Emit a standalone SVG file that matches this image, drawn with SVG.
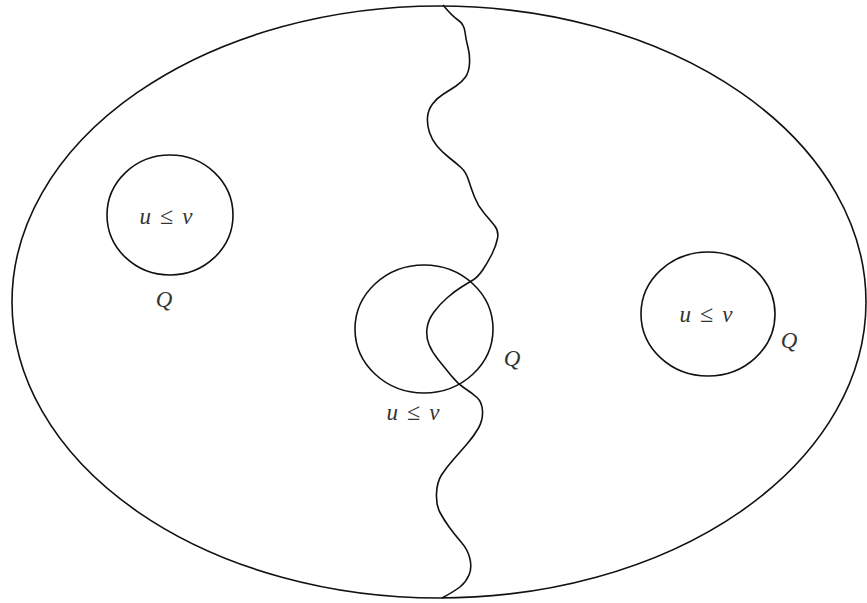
<svg xmlns="http://www.w3.org/2000/svg" width="867" height="603" viewBox="0 0 867 603">
<style>
.ln{fill:none;stroke:#111;stroke-width:1.6}
.m{font-family:"Liberation Serif","DejaVu Serif",serif;font-style:italic;font-size:23px;fill:#333;text-anchor:middle}
.r{font-style:normal;font-size:24px}
</style>
<rect width="867" height="603" fill="#fff"/>
<g id="region">
<ellipse class="ln" cx="439" cy="302" rx="427" ry="296"/>
</g>
<g id="connectors">
<path class="ln" d="M443,5 Q452,16 458,20 Q464,24 465,32 Q466,40 468,47.5 Q470,55 469.5,63.5 Q469,72 465.5,77 Q462,82 456,86 Q450,90 443.5,94 Q437,98 432.5,104 Q428,110 427.5,117.5 Q427,125 429.5,132.5 Q432,140 437,146 Q442,152 449,157.5 Q456,163 461,167.5 Q466,172 468.5,180 Q471,188 474.5,197 Q478,206 484,213 Q490,220 494.5,225.5 Q499,231 497.5,238.5 Q496,246 492,254 Q488,262 483,269.5 Q478,277 473,280 Q468,283 461.5,287 Q455,291 447.5,297.5 Q440,304 434,312 Q428,320 427,328.5 Q426,337 429,344.5 Q432,352 438.5,360 Q445,368 451.5,376 Q458,384 465,388.5 Q472,393 477,397.5 Q482,402 482.5,411 Q483,420 478.5,428 Q474,436 467,444 Q460,452 453,460 Q446,468 441.5,475 Q437,482 436.5,493.5 Q436,505 440,512.5 Q444,520 449.5,527.5 Q455,535 461.5,542.5 Q468,550 470,559 Q472,568 469,575 Q466,582 460.5,586.5 Q455,591 442,598"/>
</g>
<g id="q-left">
<ellipse class="ln" cx="170" cy="215" rx="63" ry="60"/>
<text class="m" x="166" y="224">u<tspan class="r" dx="9">≤</tspan><tspan dx="9">v</tspan></text>
<text class="m" x="164" y="307">Q</text>
</g>
<g id="q-middle">
<ellipse class="ln" cx="424" cy="329" rx="69" ry="64"/>
<text class="m" x="413" y="420">u<tspan class="r" dx="9">≤</tspan><tspan dx="9">v</tspan></text>
<text class="m" x="512" y="366">Q</text>
</g>
<g id="q-right">
<ellipse class="ln" cx="708" cy="314" rx="67" ry="62"/>
<text class="m" x="706" y="322">u<tspan class="r" dx="9">≤</tspan><tspan dx="9">v</tspan></text>
<text class="m" x="789" y="348">Q</text>
</g>
</svg>
